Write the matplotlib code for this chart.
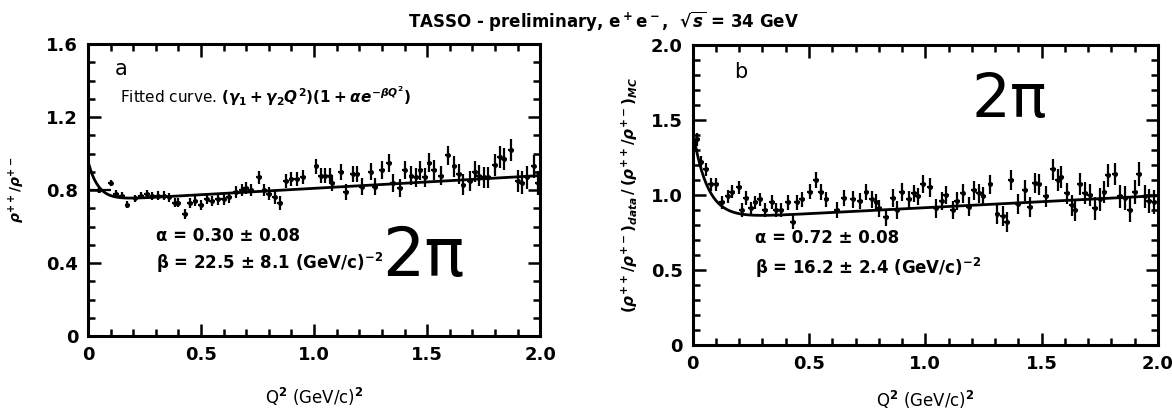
import matplotlib.pyplot as plt
import numpy as np
from matplotlib.ticker import MultipleLocator

# --- panel a: rho++/rho+- versus Q^2 ---
q2_a = [0.05, 0.10, 0.125, 0.15, 0.175, 0.21, 0.235, 0.26, 0.285, 0.31, 0.335, 0.36,
        0.385, 0.40, 0.43, 0.45, 0.475, 0.50, 0.525, 0.55, 0.575, 0.60, 0.625, 0.655,
        0.68, 0.70, 0.72, 0.757, 0.78, 0.80, 0.825, 0.85, 0.875, 0.90, 0.925, 0.95,
        1.01, 1.03, 1.05, 1.07, 1.08, 1.12, 1.14, 1.17, 1.19, 1.21, 1.25, 1.27, 1.30,
        1.33, 1.35, 1.38, 1.40, 1.43, 1.45, 1.47, 1.49, 1.51, 1.53, 1.56, 1.59, 1.62,
        1.64, 1.66, 1.69, 1.71, 1.73, 1.75, 1.77, 1.80, 1.82, 1.84, 1.87, 1.90, 1.92,
        1.94, 1.97, 1.99]
ratio_a = [0.80, 0.84, 0.78, 0.77, 0.72, 0.755, 0.77, 0.78, 0.77, 0.77, 0.77, 0.76,
           0.73, 0.73, 0.67, 0.73, 0.74, 0.72, 0.75, 0.74, 0.75, 0.75, 0.76, 0.79,
           0.80, 0.81, 0.80, 0.87, 0.80, 0.78, 0.76, 0.73, 0.85, 0.86, 0.86, 0.87,
           0.93, 0.88, 0.88, 0.88, 0.84, 0.90, 0.79, 0.89, 0.89, 0.82, 0.90, 0.82, 0.91,
           0.95, 0.84, 0.81, 0.91, 0.88, 0.87, 0.91, 0.87, 0.95, 0.91, 0.88, 0.99, 0.93,
           0.89, 0.83, 0.85, 0.90, 0.88, 0.87, 0.87, 0.94, 0.98, 0.97, 1.02, 0.85, 0.84,
           0.87, 0.93, 0.84]
alpha_a, beta_a = 0.30, 22.5
gamma_a = (0.74, 0.07)

# --- panel b: data / MC double ratio versus Q^2 ---
q2_b = [0.02, 0.036, 0.057, 0.08, 0.10, 0.127, 0.15, 0.17, 0.20, 0.21, 0.23, 0.25,
        0.27, 0.29, 0.31, 0.34, 0.36, 0.38, 0.41, 0.43, 0.45, 0.47, 0.505, 0.53,
        0.55, 0.575, 0.62, 0.65, 0.69, 0.72, 0.747, 0.769, 0.79, 0.80, 0.83, 0.86,
        0.88, 0.90, 0.93, 0.95, 0.97, 0.99, 1.02, 1.045, 1.07, 1.09, 1.12, 1.138,
        1.16, 1.186, 1.21, 1.23, 1.25, 1.28, 1.31, 1.335, 1.35, 1.37, 1.40, 1.43,
        1.45, 1.47, 1.49, 1.52, 1.55, 1.57, 1.585, 1.61, 1.63, 1.645, 1.665, 1.686,
        1.707, 1.73, 1.75, 1.77, 1.786, 1.815, 1.836, 1.86, 1.88, 1.90, 1.92,
        1.944, 1.96, 1.985]
ratio_b = [1.37, 1.22, 1.17, 1.07, 1.07, 0.95, 0.99, 1.02, 1.05, 0.90, 0.98, 0.91,
           0.95, 0.97, 0.90, 0.95, 0.90, 0.90, 0.95, 0.82, 0.95, 0.97, 1.02, 1.10,
           1.02, 0.97, 0.90, 0.98, 0.97, 0.96, 1.02, 0.97, 0.95, 0.91, 0.85, 0.98,
           0.90, 1.02, 0.97, 1.01, 0.99, 1.07, 1.05, 0.91, 0.96, 1.00, 0.90, 0.96,
           1.01, 0.92, 1.03, 1.01, 0.99, 1.07, 0.87, 0.86, 0.82, 1.10, 0.94, 1.03,
           0.92, 1.08, 1.07, 0.99, 1.17, 1.10, 1.12, 1.01, 0.93, 0.90, 1.07, 1.01,
           1.00, 0.91, 0.97, 1.02, 1.13, 1.14, 0.99, 0.98, 0.90, 1.02, 1.14,
           0.99, 0.96, 0.95]
alpha_b, beta_b = 0.72, 16.2
gamma_b = (0.835, 0.08)

plt.rcParams['font.family'] = 'DejaVu Sans'
plt.rcParams['font.weight'] = 'bold'

fig = plt.figure(figsize=(11.72, 4.17), dpi=100)
ax_a = fig.add_axes([0.075, 0.194, 0.386, 0.700])
ax_b = fig.add_axes([0.591, 0.173, 0.397, 0.719])


def fit_curve(q2, g, alpha, beta):
    return (g[0] + g[1] * q2) * (1 + alpha * np.exp(-beta * q2))


def style_axes(ax, ymax, ymajor):
    ax.set_xlim(0, 2.0)
    ax.set_ylim(0, ymax)
    ax.xaxis.set_major_locator(MultipleLocator(0.5))
    ax.xaxis.set_minor_locator(MultipleLocator(0.1))
    ax.yaxis.set_major_locator(MultipleLocator(ymajor))
    ax.yaxis.set_minor_locator(MultipleLocator(0.1))
    ax.tick_params(which='both', direction='in', top=True, right=True,
                   width=1.8, labelsize=13, pad=7)
    ax.tick_params(which='major', length=9)
    ax.tick_params(which='minor', length=5)
    for s in ax.spines.values():
        s.set_linewidth(2.2)


qq = np.linspace(0, 2.0, 400)

# panel a
err_a = [0.015 + 0.025 * x for x in q2_a]
xerr_a = [0.05] + [0.0125] * (len(q2_a) - 1)
ax_a.errorbar(q2_a, ratio_a, yerr=err_a, xerr=xerr_a, fmt='o', ms=2.5,
              color='black', elinewidth=1.6, capsize=0)
ax_a.plot(qq, fit_curve(qq, gamma_a, alpha_a, beta_a), color='black', lw=2)
style_axes(ax_a, 1.6, 0.4)
ax_a.set_yticks([0, 0.4, 0.8, 1.2, 1.6])
ax_a.set_yticklabels(['0', '0.4', '0.8', '1.2', '1.6'])
ax_a.set_xticks([0, 0.5, 1.0, 1.5, 2.0])
ax_a.set_xticklabels(['0', '0.5', '1.0', '1.5', '2.0'])
ax_a.set_ylabel(r'$\rho^{++}/\rho^{+-}$', fontsize=10, labelpad=14)
ax_a.set_xlabel(r'Q$^2$ (GeV/c)$^2$', fontsize=12, labelpad=16)
ax_a.text(0.12, 1.43, 'a', fontsize=15, fontweight='normal')
ax_a.text(0.14, 1.28, r'Fitted curve. $(\gamma_1 + \gamma_2 Q^2)(1+\alpha e^{-\beta Q^2})$',
          fontsize=11, fontweight='normal')
ax_a.text(0.3, 0.52, 'α = 0.30 ± 0.08', fontsize=12)
ax_a.text(0.3, 0.37, r'β = 22.5 ± 8.1 (GeV/c)$^{-2}$', fontsize=12)
ax_a.text(1.3, 0.33, '2π', fontsize=48, fontweight='normal')

# panel b
err_b = [0.04 + 0.02 * x for x in q2_b]
ax_b.errorbar(q2_b, ratio_b, yerr=err_b, xerr=0.0125, fmt='o', ms=2.5,
              color='black', elinewidth=1.6, capsize=0)
ax_b.plot(qq, fit_curve(qq, gamma_b, alpha_b, beta_b), color='black', lw=2)
style_axes(ax_b, 2.0, 0.5)
ax_b.set_yticks([0, 0.5, 1.0, 1.5, 2.0])
ax_b.set_yticklabels(['0', '0.5', '1.0', '1.5', '2.0'])
ax_b.set_xticks([0, 0.5, 1.0, 1.5, 2.0])
ax_b.set_xticklabels(['0', '0.5', '1.0', '1.5', '2.0'])
ax_b.set_ylabel(r'$(\rho^{++}/\rho^{+-})_{data}\,/\,(\rho^{++}/\rho^{+-})_{MC}$',
                fontsize=11, labelpad=8)
ax_b.set_xlabel(r'Q$^2$ (GeV/c)$^2$', fontsize=12, labelpad=12)
ax_b.text(0.18, 1.78, 'b', fontsize=15, fontweight='normal')
ax_b.text(0.27, 0.68, 'α = 0.72 ± 0.08', fontsize=12)
ax_b.text(0.27, 0.47, r'β = 16.2 ± 2.4 (GeV/c)$^{-2}$', fontsize=12)
ax_b.text(1.2, 1.52, '2π', fontsize=44, fontweight='normal')

fig.text(0.515, 0.935, r'TASSO - preliminary, e$^+$e$^-$,  $\sqrt{s}$ = 34 GeV',
         ha='center', fontsize=12)

fig.savefig('out.png', dpi=100)
